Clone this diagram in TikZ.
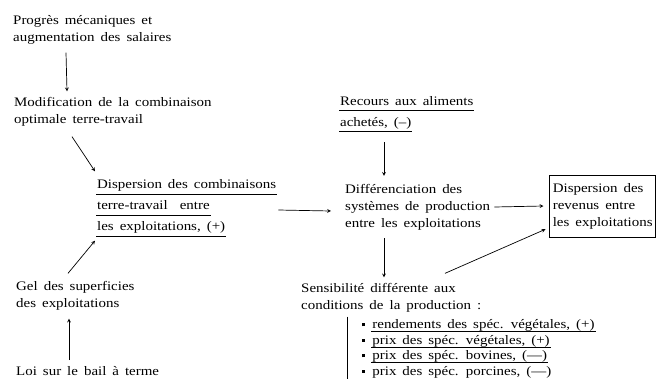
\documentclass[tikz,border=0pt]{standalone}
\usepackage{fontspec}
\setmainfont{Liberation Serif}[FakeStretch=1.15]
\usetikzlibrary{arrows}

% soulignements et puces
\newcommand{\trait}[2][-6pt]{\setbox0=\hbox{#2}\rlap{\kern-1pt\rule[#1]{\dimexpr\wd0+2pt\relax}{0.7pt}}\box0}
\newcommand{\puce}{\rule[2.5pt]{3.2pt}{3.2pt}\hspace{7pt}}
\newcommand{\espace}{\spaceskip=6pt plus 1pt\relax}

\tikzset{
  texte/.style={align=left, inner sep=0pt, anchor=west,
    font=\fontsize{13}{17}\selectfont\espace},
  fleche/.style={->, >=stealth, line width=0.7pt}
}

\begin{document}
\begin{tikzpicture}[x=1pt,y=-1pt]
\useasboundingbox (0,0) rectangle (658,378);

\node[texte] (prog) at (13,30) {Progrès mécaniques et\\augmentation des salaires};
\node[texte] (modif) at (14,112) {Modification de la combinaison\\optimale terre-travail};
\node[texte] (disp) at (97,208) {\trait{Dispersion des combinaisons}\\[4pt]
  \trait{terre-travail\ \ entre}\\[4pt]\trait{les exploitations, (+)}};
\node[texte] (gel) at (16,296) {Gel des superficies\\des exploitations};
\node[texte] (loi) at (16,371) {Loi sur le bail à terme};

\node[texte] (recours) at (340,114) {\trait{Recours aux aliments}\\[4pt]\trait{achetés, (--)}};
\node[texte] (diff) at (345,207) {Différenciation des\\systèmes de production\\entre les exploitations};
\node[texte, anchor=east, draw, line width=0.7pt, inner xsep=3pt, inner ysep=8pt] (revenus) at (656,206)
  {Dispersion des\\revenus entre\\les exploitations};
\node[texte] (sens) at (301,298) {Sensibilité différente aux\\conditions de la production :};
\node[texte, font=\fontsize{13}{15.5}\selectfont\espace] (liste) at (362,349)
  {\puce\trait[-3pt]{rendements des spéc. végétales, (+)}\\
   \puce\trait[-3pt]{prix des spéc. végétales, (+)}\\
   \puce\trait[-3pt]{prix des spéc. bovines, (---)}\\
   \puce prix des spéc. porcines, (---)};
\draw[line width=0.7pt] ([xshift=-15pt,yshift=3pt]liste.north west) -- ([xshift=-15pt,yshift=-3pt]liste.south west);

% fleches
\draw[fleche] ([xshift=53pt,yshift=-8pt]prog.south west) -- ([xshift=53pt,yshift=6pt]modif.north west);
\draw[fleche] ([xshift=58pt,yshift=-10pt]modif.south west) -- ([xshift=-2pt,yshift=8pt]disp.north west);
\draw[fleche] ([xshift=52pt,yshift=8pt]gel.north west) -- ([xshift=-2pt,yshift=-4pt]disp.south west);
\draw[fleche] ([xshift=53pt,yshift=6pt]loi.north west) -- ([xshift=53pt,yshift=-8pt]gel.south west);
\draw[fleche] ([xshift=2pt,yshift=-2pt]disp.east) -- ([xshift=-14pt,yshift=-4pt]diff.west);
\draw[fleche] ([xshift=44pt,yshift=-10pt]recours.south west) -- ([xshift=39pt,yshift=8pt]diff.north west);
\draw[fleche] ([xshift=4pt]diff.east) -- ([xshift=-6pt]revenus.west);
\draw[fleche] ([xshift=39pt,yshift=-8pt]diff.south west) -- ([xshift=83pt,yshift=6pt]sens.north west);
\draw[fleche] ([xshift=144pt,yshift=10pt]sens.north west) -- ([xshift=-4pt,yshift=8pt]revenus.south west);
\end{tikzpicture}
\end{document}
